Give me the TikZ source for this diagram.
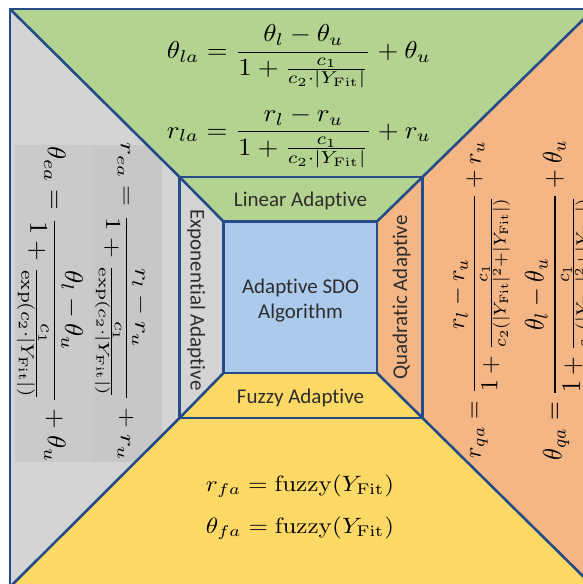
\documentclass[tikz,border=0pt]{standalone}
\usepackage[no-math]{fontspec}
\usepackage{amsmath}
\usepackage{graphicx}
\newfontfamily\lblfont[Ligatures=NoCommon]{Carlito}
\definecolor{cgreen}{RGB}{180,211,144}
\definecolor{cgray}{RGB}{212,212,212}
\definecolor{cbox}{RGB}{202,202,202}
\definecolor{cboxb}{RGB}{199,199,199}
\definecolor{corange}{RGB}{245,182,134}
\definecolor{cyellow}{RGB}{255,217,102}
\definecolor{cblue}{RGB}{172,202,236}
\definecolor{cedge}{RGB}{36,76,136}
\definecolor{ctext}{RGB}{45,45,45}
\newcommand{\YF}{|Y_{\mathrm{Fit}}|}
\newcommand{\fbx}[3]{\resizebox*{#1pt}{#2pt}{$\displaystyle #3$}}
\begin{document}
\begin{tikzpicture}[x=1pt,y=-1pt,
  edge/.style={draw=cedge,line width=2.6pt,line join=miter},
  lbl/.style={font=\lblfont\fontsize{21}{25}\selectfont,text=ctext,inner sep=0pt,anchor=base},
  eq/.style={inner sep=0pt,text=black}]
\useasboundingbox (0,0) rectangle (583,584);
\clip (0,0) rectangle (583,584);
\fill[white] (0,0) rectangle (583,584);
% corners
\coordinate (O1) at (10,9);
\coordinate (O2) at (594,9);
\coordinate (O3) at (594,587);
\coordinate (O4) at (10,587);
\coordinate (M1) at (179.5,177);
\coordinate (M2) at (422.5,177);
\coordinate (M3) at (422.5,418);
\coordinate (M4) at (179.5,418);
\coordinate (I1) at (223.5,221.5);
\coordinate (I2) at (377,221.5);
\coordinate (I3) at (377,373);
\coordinate (I4) at (223.5,373);
% fills
\fill[cgreen] (O1)--(O2)--(M2)--(I2)--(I1)--(M1)--cycle;
\fill[cgray] (O1)--(M1)--(I1)--(I4)--(M4)--(O4)--cycle;
\fill[corange] (O2)--(O3)--(M3)--(I3)--(I2)--(M2)--cycle;
\fill[cyellow] (O4)--(M4)--(I4)--(I3)--(M3)--(O3)--cycle;
\fill[cblue] (I1) rectangle (I3);
% left formulas
\begin{scope}
\clip (O1)--(M1)--(M4)--(O4)--cycle;
\fill[cbox] (15,145) rectangle (93,462);
\fill[cboxb] (93,145) rectangle (162,462);
\node[eq,rotate=-90] (thea) at (50,304.5)
  {\fbx{315}{66}{\theta_{ea}=\frac{\theta_l-\theta_u}{1+\frac{c_1}{\exp(c_2\cdot\YF)}}+\theta_u}};
\node[eq,rotate=-90] (rea) at (121.5,302)
  {\fbx{318}{53}{r_{ea}=\frac{r_l-r_u}{1+\frac{c_1}{\exp(c_2\cdot\YF)}}+r_u}};
\end{scope}
% right formulas
\begin{scope}
\clip (O2)--(O3)--(M3)--(M2)--cycle;
\node[eq,rotate=90] (rqa) at (480,299.5)
  {\fbx{317}{60}{r_{qa}=\frac{r_l-r_u}{1+\frac{c_1}{c_2(\YF^2+\YF)}}+r_u}};
\node[eq,rotate=90] (thqa) at (559.5,300)
  {\fbx{320}{69}{\theta_{qa}=\frac{\theta_l-\theta_u}{1+\frac{c_1}{c_2(\YF^2+\YF)}}+\theta_u}};
\end{scope}
% top formulas
\node[eq] (thla) at (299,56.5)
  {\fbx{264}{63}{\theta_{la}=\frac{\theta_l-\theta_u}{1+\frac{c_1}{c_2\cdot\YF}}+\theta_u}};
\node[eq] (rla) at (299,137.5)
  {\fbx{264}{61}{r_{la}=\frac{r_l-r_u}{1+\frac{c_1}{c_2\cdot\YF}}+r_u}};
% bottom formulas
\node[eq] (rfa) at (300,486.5)
  {\fbx{188}{23}{r_{fa}=\mathrm{fuzzy}(Y_{\mathrm{Fit}})}};
\node[eq] (thfa) at (300,528.5)
  {\fbx{188}{23}{\theta_{fa}=\mathrm{fuzzy}(Y_{\mathrm{Fit}})}};
% edges
\draw[edge] (O1) rectangle (O3);
\draw[edge] (M1) rectangle (M3);
\draw[edge] (I1) rectangle (I3);
\draw[edge] (O1)--(M1)--(I1);
\draw[edge] (O2)--(M2)--(I2);
\draw[edge] (O3)--(M3)--(I3);
\draw[edge] (O4)--(M4)--(I4);
% labels
\node[lbl] (lin) at (300.5,206) {Linear Adaptive};
\node[lbl] (fuz) at (300.5,403) {Fuzzy Adaptive};
\node[lbl,rotate=-90] (expo) at (190.5,300) {Exponential Adaptive};
\node[lbl,rotate=90] (quad) at (407,297.5) {Quadratic Adaptive};
\node[lbl] (alg1) at (300.5,293) {Adaptive SDO};
\node[lbl] (alg2) at (300.5,318) {Algorithm};
\end{tikzpicture}
\end{document}
